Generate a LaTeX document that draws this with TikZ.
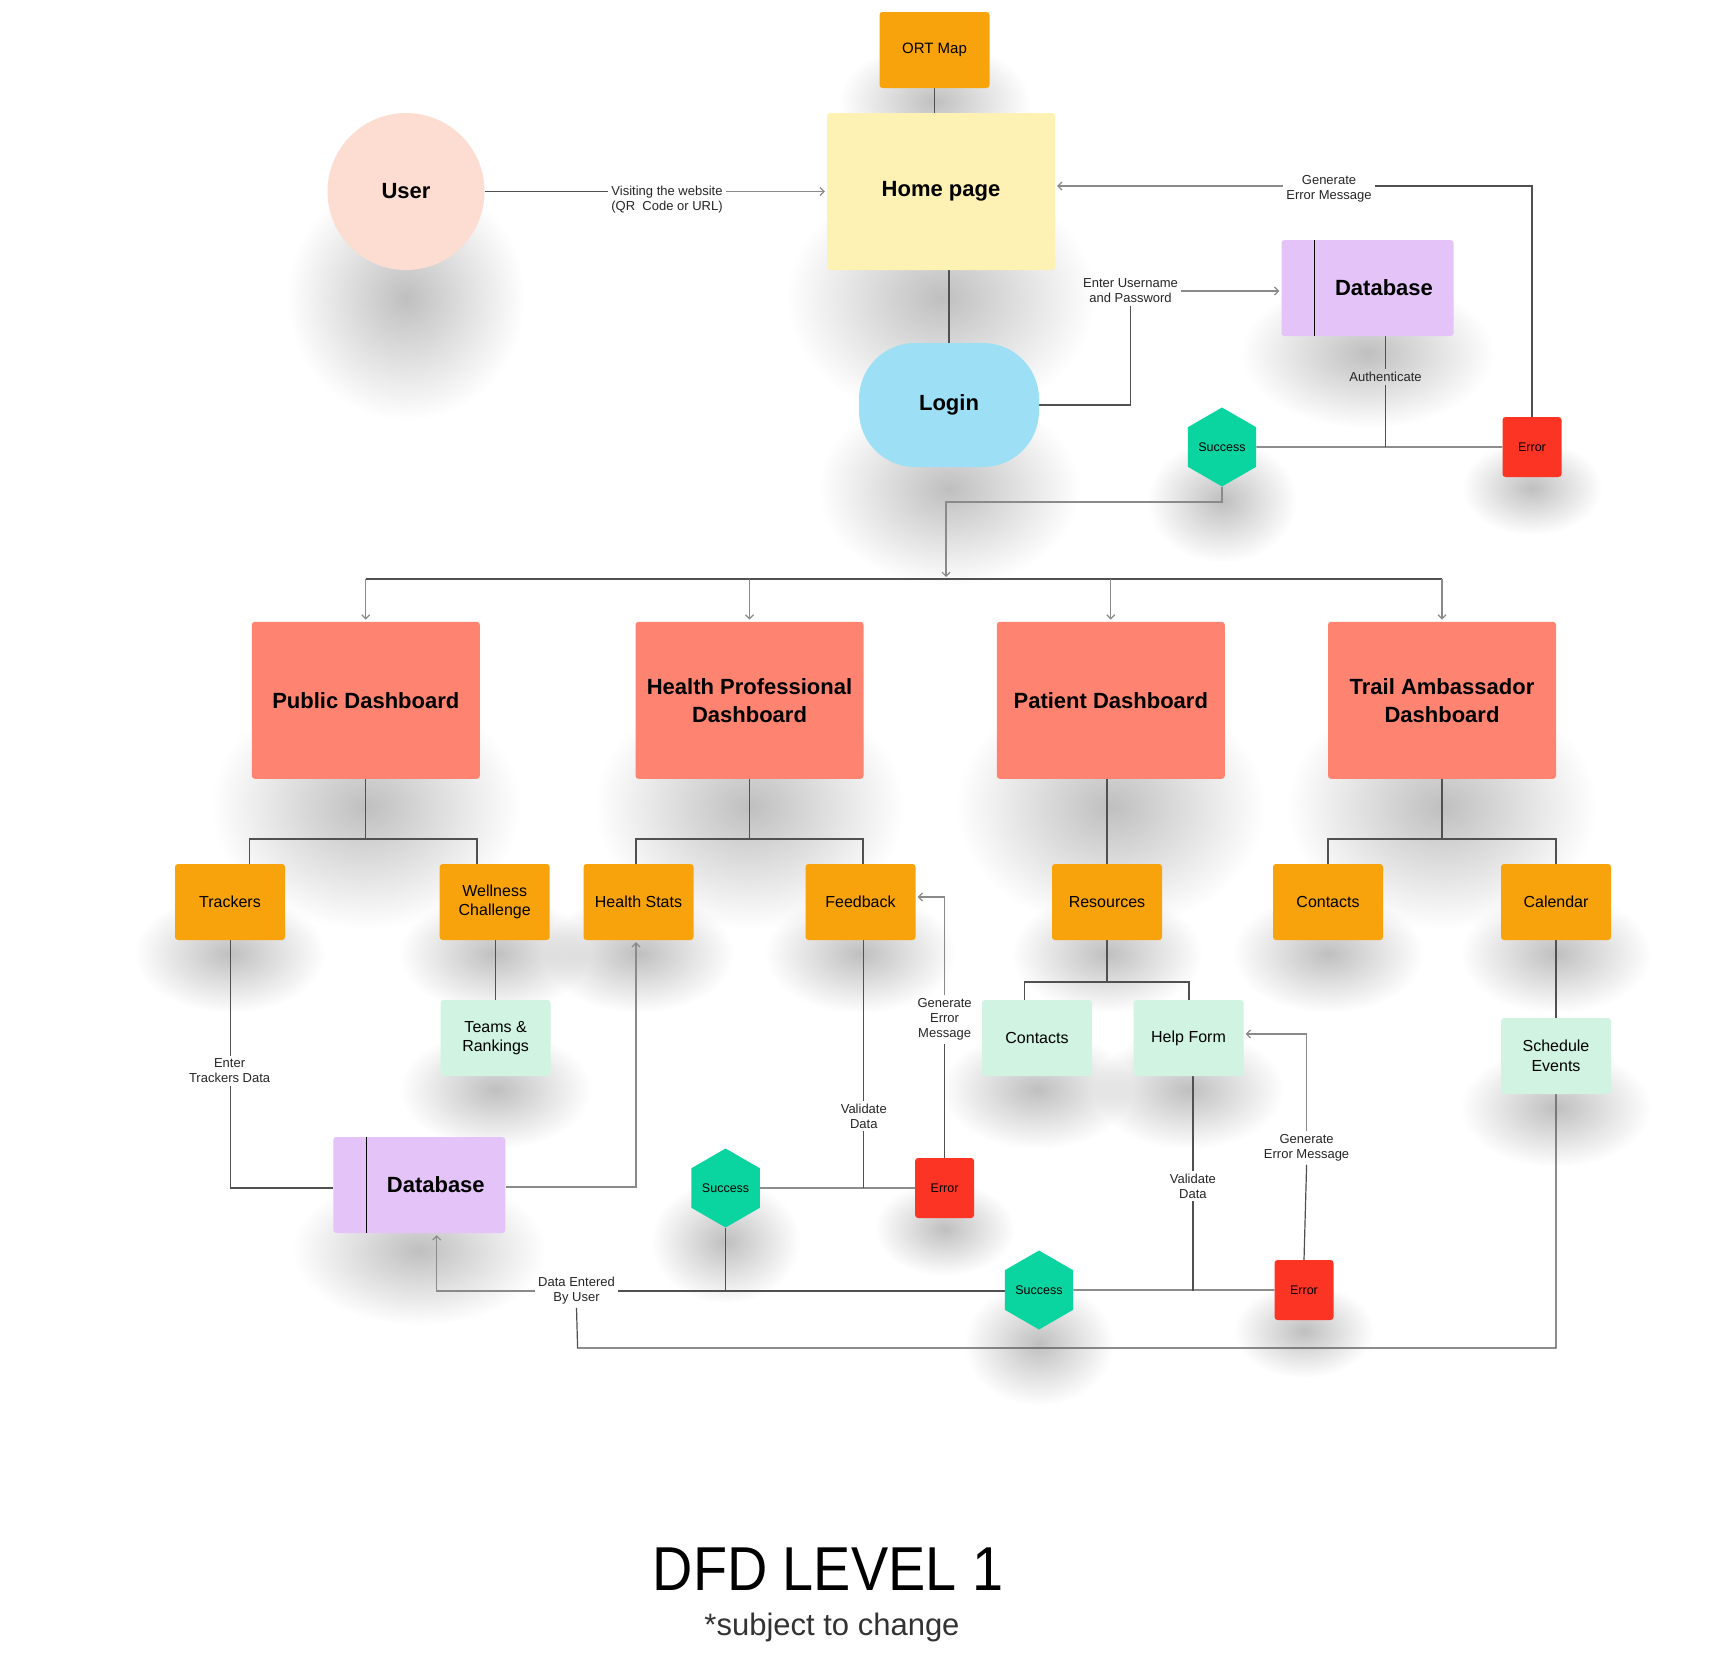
\documentclass[tikz,border=0pt]{standalone}
\usepackage{fontspec}
\setmainfont{Liberation Sans}
\newfontfamily\titlefont[FakeStretch=0.9]{Liberation Sans}
\usetikzlibrary{shapes.geometric,arrows.meta,fadings,calc}

\definecolor{ortorange}{HTML}{F8A30B}
\definecolor{homeyellow}{HTML}{FDF1B3}
\definecolor{userpeach}{HTML}{FDDDD1}
\definecolor{loginblue}{HTML}{9DE0F6}
\definecolor{dblavender}{HTML}{E4C4F8}
\definecolor{succgreen}{HTML}{0AD5A0}
\definecolor{errred}{HTML}{FC3423}
\definecolor{dashsalmon}{HTML}{FE8471}
\definecolor{mint}{HTML}{D0F4E1}
\definecolor{linegray}{HTML}{505050}
\definecolor{arrowgray}{HTML}{8A8A8A}

% soft radial blob used for the drop shadows
\tikzfading[name=softblob, inner color=transparent!0, outer color=transparent!100]

\pgfdeclarelayer{paper}
\pgfdeclarelayer{shade}
\pgfdeclarelayer{wires}
\pgfsetlayers{paper,shade,wires,main}

\begin{document}
\begin{tikzpicture}[x=1pt,y=-1pt,
  procbox/.style={rectangle,rounded corners=3pt,inner sep=2pt,align=center,
      font=\fontsize{16}{19.5}\selectfont},
  bigfont/.style={font=\fontsize{22}{28}\selectfont\bfseries},
  subbox/.style={procbox,fill=ortorange,minimum width=110pt,minimum height=76pt},
  greenbox/.style={procbox,fill=mint,minimum width=110pt,minimum height=76pt},
  dashbox/.style={procbox,fill=dashsalmon,minimum width=228pt,minimum height=157pt,bigfont},
  dbbox/.style={procbox,fill=dblavender,minimum width=172pt,minimum height=96pt,bigfont,
      path picture={\draw[line width=1.5pt]
        ([xshift=33pt]path picture bounding box.north west) --
        ([xshift=33pt]path picture bounding box.south west);}},
  hexnode/.style={regular polygon,regular polygon sides=6,shape border rotate=30,
      minimum size=79pt,inner sep=0pt,fill=succgreen,
      font=\fontsize{12.5}{15}\selectfont},
  errbox/.style={procbox,fill=errred,minimum width=59pt,minimum height=60pt,
      font=\fontsize{12.5}{15}\selectfont},
  lbl/.style={inner sep=3pt,align=center,text=black!85,
      font=\fontsize{13}{15}\selectfont},
  conn/.style={draw=linegray,line width=1.2pt},
  flow/.style={draw=arrowgray,line width=1.2pt,shorten >=2pt,
      -{Straight Barb[length=4pt,width=8pt,line width=1.2pt]}},
  dropshade/.style={fill=black,opacity=0.25,path fading=softblob},
]
\useasboundingbox (0,0) rectangle (1728,1673);
\begin{pgfonlayer}{paper}
\fill[white] (0,0) rectangle (1728,1673);
\end{pgfonlayer}

% ---------- login area ----------
\node[subbox,font=\fontsize{15}{18}\selectfont] (ort) at (934.5,50) {ORT Map};
\node[procbox,fill=homeyellow,minimum width=228pt,minimum height=157pt,bigfont] (home) at (941,191.5) {Home page};
\node[circle,fill=userpeach,minimum size=157pt,bigfont] (user) at (406,191.5) {User};
\node[rectangle,rounded corners=56pt,fill=loginblue,minimum width=180pt,minimum height=124pt,bigfont] (login) at (949,405) {Login};
\node[dbbox] (db1) at (1367.5,288) {\hspace*{33pt}Database};
\node[hexnode] (succ1) at (1222,447) {Success};
\node[errbox] (err1) at (1532,447) {Error};

% ---------- dashboards ----------
\node[dashbox] (dash1) at (365.8,700.3) {Public Dashboard};
\node[dashbox] (dash2) at (749.5,700.3) {Health Professional\\Dashboard};
\node[dashbox] (dash3) at (1110.8,700.3) {Patient Dashboard};
\node[dashbox] (dash4) at (1442,700.3) {Trail Ambassador\\Dashboard};

% ---------- dashboard features ----------
\node[subbox] (trackers) at (230,902) {Trackers};
\node[subbox] (wellness) at (494.7,902) {Wellness\\Challenge};
\node[subbox] (hstats) at (638.5,902) {Health Stats};
\node[subbox] (feedback) at (860.5,902) {Feedback};
\node[subbox] (resources) at (1107,902) {Resources};
\node[subbox] (contactsA) at (1328,902) {Contacts};
\node[subbox] (calendar) at (1556,902) {Calendar};

\node[greenbox] (teams) at (495.6,1038) {Teams \&\\Rankings};
\node[greenbox] (contactsB) at (1037,1038) {Contacts};
\node[greenbox] (helpform) at (1188.5,1038) {Help Form};
\node[greenbox] (schedule) at (1556,1056) {Schedule\\Events};

% ---------- data store and validation ----------
\node[dbbox] (db2) at (419.3,1185) {\hspace*{33pt}Database};
\node[hexnode] (succ2) at (725.6,1188) {Success};
\node[errbox] (err2) at (944.6,1188) {Error};
\node[hexnode] (succ3) at (1039,1290) {Success};
\node[errbox] (err3) at (1304,1290) {Error};

% ---------- soft shadows under the shapes ----------
\begin{pgfonlayer}{shade}
\foreach \nd in {ort,home,user,login,db1,succ1,err1,dash1,dash2,dash3,dash4,
    trackers,wellness,hstats,feedback,resources,contactsA,calendar,
    teams,contactsB,helpform,schedule,db2,succ2,err2,succ3,err3}
  \fill[dropshade] let \p1=(\nd.west), \p2=(\nd.east), \p3=(\nd.north), \p4=(\nd.south) in
    ({\x1-40pt},{\y4+0.6*(\y3-\y4)}) rectangle ({\x2+40pt},{\y4-0.95*(\y3-\y4)});
\end{pgfonlayer}

% ---------- flow labels ----------
\node[lbl] (lvisit) at (667,200) {Visiting the website\\(QR~ Code or URL)};
\node[lbl] (lgen1) at (1329,189) {Generate\\Error Message};
\node[lbl] (leu) at (1130.5,291) {Enter Username\\and Password};
\node[lbl] (lauth) at (1385.5,377) {Authenticate};
\node[lbl] (ltrack) at (229.6,1071) {Enter\\Trackers Data};
\node[lbl] (lval1) at (863.8,1116) {Validate\\Data};
\node[lbl] (lgen2) at (944.6,1019.5) {Generate\\Error\\Message};
\node[lbl] (lval2) at (1192.9,1186) {Validate\\Data};
\node[lbl] (lgen3) at (1306.6,1148) {Generate\\Error Message};
\node[lbl] (lde) at (576.5,1291) {Data Entered\\By User};

% ---------- title ----------
\node[anchor=base,font=\titlefont\fontsize{62}{70}\selectfont] (title) at (828,1590) {DFD LEVEL 1};
\node[anchor=base,font=\fontsize{31}{36}\selectfont,text=black!80] (subtitle) at (832,1635) {*subject to change};

% ---------- connectors ----------
\begin{pgfonlayer}{wires}
\draw[conn] (ort.south) -- (ort.south |- home.north);
\draw[conn] (user.east) -- (lvisit.west |- user.east);
\draw[flow] (lvisit.east |- user.east) -- (home.west);
\draw[conn] (home.south -| login.north) -- (login.north);
\draw[conn] (login.east) -| (leu.south);
\draw[flow] (leu.east) -- (leu.east -| db1.west);
\coordinate (authj) at (1385.5,447);
\draw[conn] (authj |- db1.south) -- (lauth.north);
\draw[conn] (lauth.south) -- (authj);
\draw[conn] (succ1.east) -- (err1.west);
\draw[conn] (err1.north) |- (lgen1.east |- 0,186);
\draw[flow] (lgen1.west |- 0,186) -- (home.east |- 0,186);

% success fans out to the dashboards
\coordinate (succturn) at (946,502);
\coordinate (busj) at (946,579);
\draw[flow] (succ1.south) |- (succturn) -- (busj);
\draw[conn] (dash1.north |- busj) -- (dash4.north |- busj);
\foreach \d in {dash1,dash2,dash3,dash4}
  \draw[flow] (\d.north |- busj) -- (\d.north);

% dashboards to their features
\draw[conn] (dash1.south) -- (dash1.south |- 0,839);
\draw[conn] (trackers.north -| 249.5,0) -- (249.5,839) -- (477,839) -- (wellness.north -| 477,0);
\draw[conn] (dash2.south) -- (dash2.south |- 0,839);
\draw[conn] (hstats.north -| 636,0) -- (636,839) -- (863,839) -- (feedback.north -| 863,0);
\draw[conn] (dash3.south -| resources.north) -- (resources.north);
\draw[conn] (dash4.south) -- (dash4.south |- 0,839);
\draw[conn] (contactsA.north) -- (contactsA.north |- 0,839) -- (calendar.north |- 0,839) -- (calendar.north);
\draw[conn] (resources.south) -- (resources.south |- 0,982);
\draw[conn] (contactsB.north -| 1024.5,0) -- (1024.5,982) -- (1189,982) -- (helpform.north -| 1189,0);
\draw[conn] (wellness.south -| teams.north) -- (teams.north);
\draw[conn] (calendar.south) -- (schedule.north);

% data paths at the bottom
\draw[conn] (trackers.south -| 230.6,0) -- (ltrack.north -| 230.6,0);
\draw[conn] (ltrack.south -| 230.6,0) -- (230.6,1188) -- (db2.west |- 0,1188);
\draw[flow] (db2.east |- 0,1187) -- (636,1187) -- (hstats.south -| 636,0);
\draw[conn] (feedback.south -| 863.8,0) -- (lval1.north);
\draw[conn] (lval1.south) -- (863.8,1188);
\draw[conn] (succ2.east) -- (err2.west);
\draw[conn] (err2.north) -- (lgen2.south);
\draw[flow] (lgen2.north) |- (feedback.east |- 0,897);
\draw[conn] (succ2.south) -- (succ2.south |- 0,1291);
\draw[conn] (succ3.west |- 0,1291) -- (lde.east |- 0,1291);
\draw[flow] (lde.west |- 0,1291) -| (db2.south -| 436.7,0);
\draw[conn] (helpform.south -| 1192.9,0) -- (lval2.north);
\draw[conn] (lval2.south) -- (1192.9,1291);
\draw[conn] (succ3.east) -- (err3.west);
\draw[conn] (err3.north) -- (lgen3.south);
\draw[flow] (lgen3.north) |- (helpform.east |- 0,1034);
\draw[conn] (schedule.south) |- (577.6,1348) -- (lde.south);
\end{pgfonlayer}
\end{tikzpicture}
\end{document}
